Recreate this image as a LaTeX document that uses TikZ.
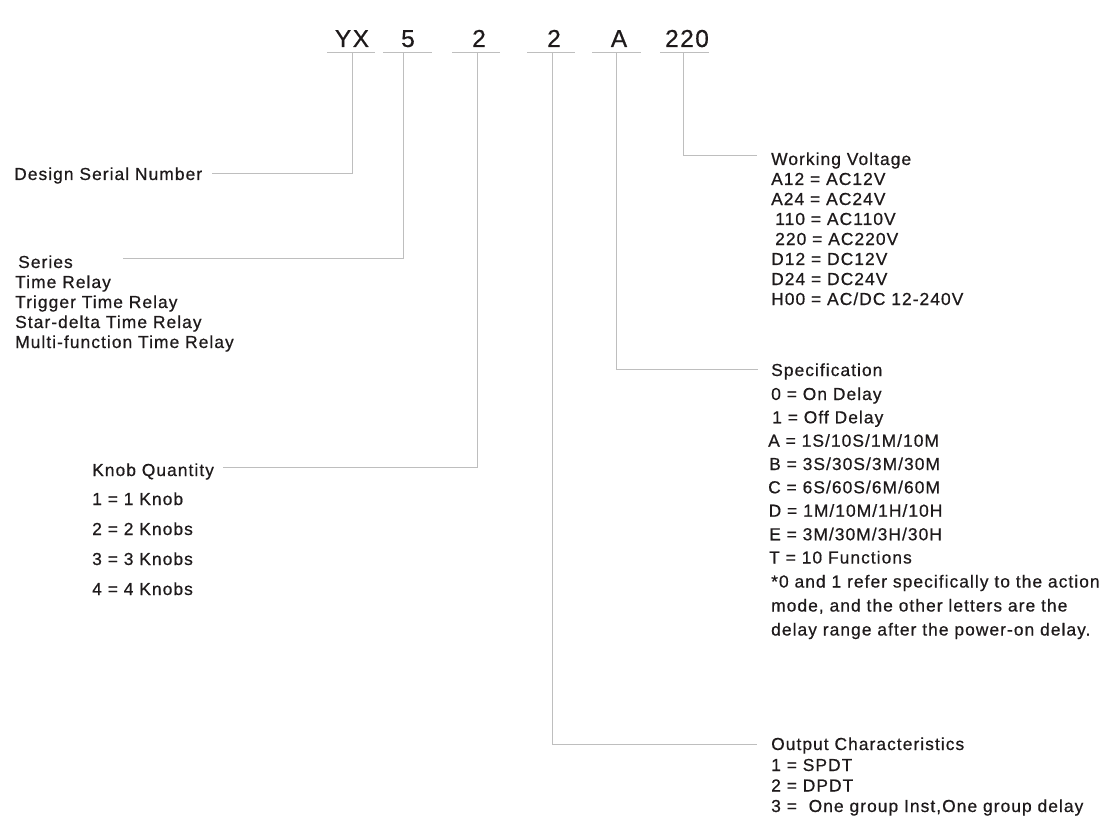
\documentclass[tikz,border=0pt]{standalone}
\usepackage{fontspec}
\setmainfont[LetterSpace=6,FakeBold=0.6]{Liberation Sans}
\definecolor{tc}{RGB}{30,26,27}
\definecolor{lc}{RGB}{190,190,190}
\begin{document}
\begin{tikzpicture}[x=1pt,y=-1pt,
  txt/.style={anchor=base west,inner sep=0pt,font=\fontsize{17.4}{20}\selectfont,text=tc},
  code/.style={anchor=base,inner sep=0pt,font=\fontsize{24.5}{28}\selectfont,text=tc},
  ln/.style={draw=lc,line width=1pt}]
\useasboundingbox (0,0) rectangle (1104,840);
% code letters
\node[code] (cYX) at (352,47) {YX};
\node[code] (c5) at (408,47) {5};
\node[code] (c2a) at (479,47) {2};
\node[code] (c2b) at (554,47) {2};
\node[code] (cA) at (619,47) {A};
\node[code] (c220) at (687,47) {220};
% underlines
\coordinate (uYXl) at (327,53); \coordinate (uYXr) at (375,53);
\coordinate (u5l) at (383,53); \coordinate (u5r) at (432,53);
\coordinate (u2al) at (452,53); \coordinate (u2ar) at (500,53);
\coordinate (u2bl) at (527,53); \coordinate (u2br) at (575,53);
\coordinate (uAl) at (592,53); \coordinate (uAr) at (641,53);
\coordinate (u220l) at (660,53); \coordinate (u220r) at (709,53);
\draw[ln] (uYXl) -- (uYXr);
\draw[ln] (u5l) -- (u5r);
\draw[ln] (u2al) -- (u2ar);
\draw[ln] (u2bl) -- (u2br);
\draw[ln] (uAl) -- (uAr);
\draw[ln] (u220l) -- (u220r);
% Design serial number
\node[txt] (dsn) at (14,180) {Design Serial Number};
\coordinate (tYX) at (352,53); \coordinate (kYX) at (352,174); \coordinate (eYX) at (212,174);
\draw[ln] (tYX) -- (kYX) -- (eYX);
% Series
\node[txt] (ser) at (18,268) {Series};
\node[txt] (ser1) at (15,288) {Time Relay};
\node[txt] (ser2) at (15,308) {Trigger Time Relay};
\node[txt] (ser3) at (15,328) {Star-delta Time Relay};
\node[txt] (ser4) at (15,348) {Multi-function Time Relay};
\coordinate (t5) at (403,53); \coordinate (k5) at (403,258); \coordinate (e5) at (123,258);
\draw[ln] (t5) -- (k5) -- (e5);
% Knob quantity
\node[txt] (kq) at (92,476) {Knob Quantity};
\node[txt] (kq1) at (92,505) {1 = 1 Knob};
\node[txt] (kq2) at (92,535) {2 = 2 Knobs};
\node[txt] (kq3) at (92,565) {3 = 3 Knobs};
\node[txt] (kq4) at (92,595) {4 = 4 Knobs};
\coordinate (t2a) at (477,53); \coordinate (k2a) at (477,467); \coordinate (e2a) at (223,467);
\draw[ln] (t2a) -- (k2a) -- (e2a);
% Output characteristics
\node[txt] (oc) at (771,750) {Output Characteristics};
\node[txt] (oc1) at (771,771) {1 = SPDT};
\node[txt] (oc2) at (771,791.5) {2 = DPDT};
\node[txt] (oc3) at (771,812) {3 =\ \ One group Inst,One group delay};
\coordinate (t2b) at (552,53); \coordinate (k2b) at (552,744); \coordinate (e2b) at (757,744);
\draw[ln] (t2b) -- (k2b) -- (e2b);
% Specification
\node[txt] (sp) at (771,376) {Specification};
\node[txt] (sp1) at (771,400) {0 = On Delay};
\node[txt] (sp2) at (772,423.3) {1 = Off Delay};
\node[txt] (sp3) at (768,446.7) {A = 1S/10S/1M/10M};
\node[txt] (sp4) at (769,470) {B = 3S/30S/3M/30M};
\node[txt] (sp5) at (768,493.3) {C = 6S/60S/6M/60M};
\node[txt] (sp6) at (768.5,516.7) {D = 1M/10M/1H/10H};
\node[txt] (sp7) at (769,540.3) {E = 3M/30M/3H/30H};
\node[txt] (sp8) at (769,563.5) {T = 10 Functions};
\node[txt] (sp9) at (771,587.5) {*0 and 1 refer specifically to the action};
\node[txt] (sp10) at (771,611.5) {mode, and the other letters are the};
\node[txt] (sp11) at (771,635.5) {delay range after the power-on delay.};
\coordinate (tA) at (616,53); \coordinate (kA) at (616,369); \coordinate (eA) at (758,369);
\draw[ln] (tA) -- (kA) -- (eA);
% Working voltage
\node[txt] (wv) at (771,165) {Working Voltage};
\node[txt] (wv1) at (771,185) {A12 = AC12V};
\node[txt] (wv2) at (771,205) {A24 = AC24V};
\node[txt] (wv3) at (775,225) {110 = AC110V};
\node[txt] (wv4) at (775,245) {220 = AC220V};
\node[txt] (wv5) at (771,265) {D12 = DC12V};
\node[txt] (wv6) at (771,285) {D24 = DC24V};
\node[txt] (wv7) at (771,305) {H00 = AC/DC 12-240V};
\coordinate (t220) at (683,53); \coordinate (k220) at (683,156); \coordinate (e220) at (757,156);
\draw[ln] (t220) -- (k220) -- (e220);
\end{tikzpicture}
\end{document}
